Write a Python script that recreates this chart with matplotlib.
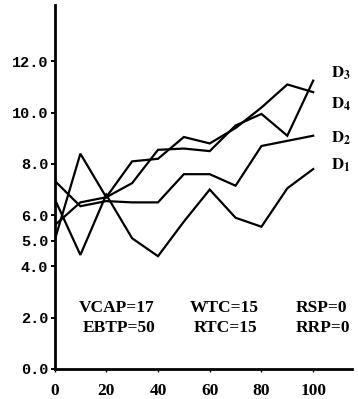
import matplotlib
matplotlib.use("Agg")
import matplotlib.pyplot as plt

# time axis and the four response curves
x = [0, 10, 20, 30, 40, 50, 60, 70, 80, 90, 100]
d1 = [6.65, 4.45, 6.8, 5.1, 4.4, 5.75, 7.0, 5.9, 5.55, 7.05, 7.8]
d2 = [7.35, 6.35, 6.55, 6.5, 6.5, 7.6, 7.6, 7.15, 8.7, 8.9, 9.1]
d3 = [5.6, 6.5, 6.7, 7.25, 8.55, 8.6, 8.5, 9.5, 9.95, 9.1, 11.25]
d4 = [5.0, 8.4, 6.7, 8.1, 8.2, 9.05, 8.8, 9.4, 10.2, 11.1, 10.8]

yticks = [0, 2, 4, 5, 6, 8, 10, 12]
ytick_labels = ["0.0", "2.0", "4.0", "5.0", "6.0", "8.0", "10.0", "12.0"]
xticks = [0, 20, 40, 60, 80, 100]
xtick_labels = ["0", "20", "40", "60", "80", "100"]

curve_names = [r"$\mathbf{D_1}$", r"$\mathbf{D_2}$", r"$\mathbf{D_3}$", r"$\mathbf{D_4}$"]
params_left = ["VCAP=17", "EBTP=50"]
params_mid = ["WTC=15", "RTC=15"]
params_right = ["RSP=0", "RRP=0"]

plt.rcParams["mathtext.fontset"] = "stix"

fig = plt.figure(figsize=(3.58, 3.99), dpi=100)
ax = fig.add_axes([54.5 / 358, 30 / 399, 297.5 / 358, 364 / 399])

for ys in (d1, d2, d3, d4):
    ax.plot(x, ys, color="black", lw=1.6, solid_joinstyle="miter")

ax.set_xlim(0, 115)
ax.set_ylim(0, 14.2)
for side in ("top", "right"):
    ax.spines[side].set_visible(False)
for side in ("left", "bottom"):
    ax.spines[side].set_linewidth(2.0)

ax.set_yticks(yticks)
ax.set_yticklabels(ytick_labels, family="Liberation Mono", weight="bold", fontsize=11)
ax.set_xticks(xticks)
ax.set_xticklabels(xtick_labels, family="Liberation Serif", weight="bold", fontsize=12.5)
ax.tick_params(axis="y", length=3, width=1.4, pad=1.5)
ax.tick_params(axis="x", length=2, width=1.0, pad=8)

# curve labels at the right end
label_y = [7.95, 9.0, 11.55, 10.35]
for name, ly in zip(curve_names, label_y):
    ax.text(110.8, ly, name, fontsize=12, ha="center", va="center")

# run parameters
txt = dict(family="Liberation Serif", weight="bold", fontsize=12.5, ha="center", va="center")
for col_x, lines in ((24.2, params_left), (65.5, params_mid), (103.0, params_right)):
    ax.text(col_x, 2.38, lines[0], **txt)
    ax.text(col_x + 0.8, 1.6, lines[1], **txt)

fig.savefig("out.png", dpi=100)
